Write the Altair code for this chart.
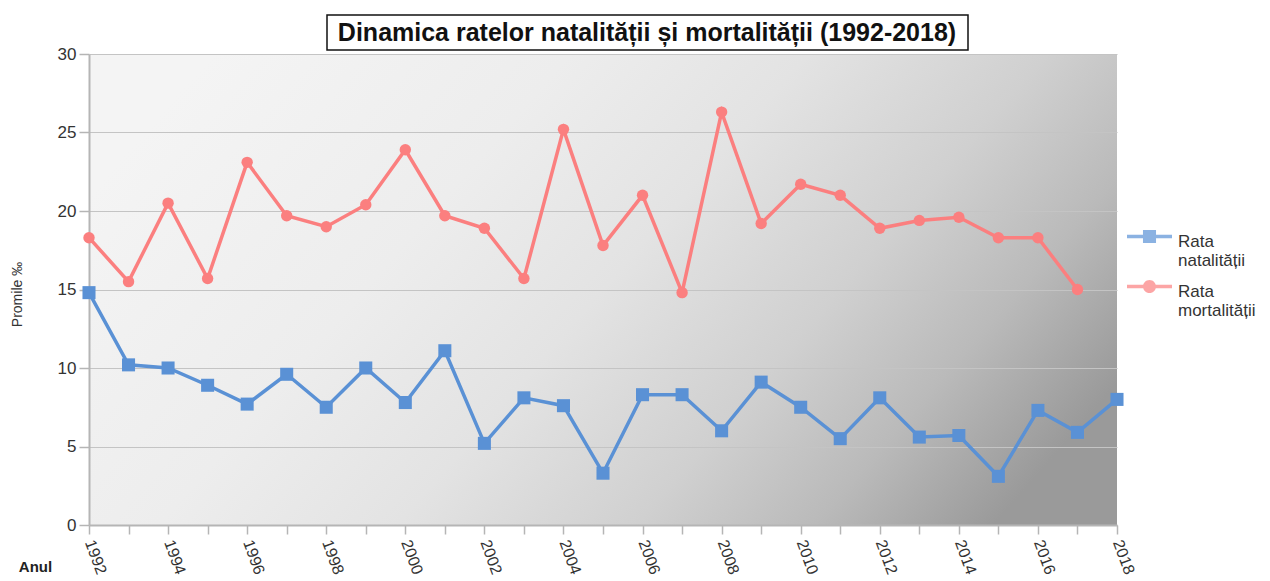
import altair as alt
import pandas as pd

# ---- data ----
years = list(range(1992, 2019))
natalitate = [14.8, 10.2, 10.0, 8.9, 7.7, 9.6, 7.5, 10.0, 7.8, 11.1, 5.2, 8.1, 7.6, 3.3,
              8.3, 8.3, 6.0, 9.1, 7.5, 5.5, 8.1, 5.6, 5.7, 3.1, 7.3, 5.9, 8.0]
mortalitate = [18.3, 15.5, 20.5, 15.7, 23.1, 19.7, 19.0, 20.4, 23.9, 19.7, 18.9, 15.7, 25.2, 17.8,
               21.0, 14.8, 26.3, 19.2, 21.7, 21.0, 18.9, 19.4, 19.6, 18.3, 18.3, 15.0, None]
series = ["Rata natalității", "Rata mortalității"]
colors = ["#5a91d5", "#fb7f7f"]
y_ticks = [0, 5, 10, 15, 20, 25, 30]
title_text = "Dinamica ratelor natalității și mortalității (1992-2018)"

rows = []
for name, vals in zip(series, [natalitate, mortalitate]):
    for yr, v in zip(years, vals):
        if v is not None:
            rows.append({"an": yr, "valoare": v, "serie": name})
df = pd.DataFrame(rows)

FONT = "Liberation Sans"
W, H = 1028, 471

x_enc = alt.X(
    "an:Q",
    scale=alt.Scale(domain=[1992, 2018], nice=False, zero=False),
    axis=alt.Axis(
        values=years, format="d",
        labelExpr="datum.value % 2 == 0 ? datum.label : ''",
        labelAngle=70, labelAlign="left", labelBaseline="middle",
        labelOverlap=False, labelFlush=False,
        labelFontSize=16, labelColor="#333333", labelPadding=6,
        tickSize=9, tickColor="#b5b5b5", tickWidth=1.5,
        domainColor="#b5b5b5", domainWidth=2, grid=False,
        title="Anul", titleX=-54, titleY=41, titleAngle=0,
        titleAlign="center", titleBaseline="middle",
        titleFontSize=15, titleFontWeight="bold", titleColor="#222222",
    ),
)
y_enc = alt.Y(
    "valoare:Q",
    scale=alt.Scale(domain=[0, 30], nice=False),
    axis=alt.Axis(
        values=y_ticks, labelFontSize=17, labelColor="#333333", labelPadding=3,
        tickSize=10, tickColor="#b5b5b5", tickWidth=1.5,
        domainColor="#b5b5b5", domainWidth=2,
        grid=True, gridColor="#c4c4c4", gridWidth=1.2,
        title="Promile ‰", titleX=-72, titleY=240, titleAngle=-90,
        titleAlign="center", titleBaseline="middle",
        titleFontSize=14, titleFontWeight="normal", titleColor="#333333",
    ),
)

base = alt.Chart(df)
layers = []
for name, col, shp, sz in zip(series, colors, ["square", "circle"], [170, 130]):
    sub = base.transform_filter(alt.datum.serie == name)
    layers.append(sub.mark_line(color=col, strokeWidth=3.5).encode(x=x_enc, y=y_enc))
    layers.append(sub.mark_point(color=col, filled=True, opacity=1, shape=shp, size=sz)
                  .encode(x=x_enc, y=y_enc))

# legend: custom symbols (line + marker), legend entries from explicit domain
dy = -0.22
t = 0.078
s = 0.29
path_sq = (f"M-1,{dy - t}H1V{dy + t}H-1Z "
           f"M-{s},{dy - s}H{s}V{dy + s}H-{s}Z")
path_ci = (f"M-1,{dy - t}H1V{dy + t}H-1Z "
           f"M-{s},{dy}A{s},{s} 0 1,1 {s},{dy}A{s},{s} 0 1,1 -{s},{dy}Z")
leg = alt.Legend(
    title=None, orient="none", legendX=1038, legendY=165,
    labelExpr="split(datum.label, ' ')", labelFontSize=17, labelColor="#333333",
    labelFont=FONT, labelOffset=6, labelBaseline="middle",
    symbolSize=2025, symbolStrokeWidth=0, rowPadding=-6, padding=0,
)
legend_layer = base.transform_filter("false").mark_point(filled=True).encode(
    color=alt.Color("serie:N", scale=alt.Scale(domain=series, range=colors), legend=leg),
    shape=alt.Shape("serie:N", scale=alt.Scale(domain=series, range=[path_sq, path_ci]), legend=leg),
)

# title in a framed box
tdf = pd.DataFrame({"t": [title_text]})
title_box = alt.Chart(tdf).mark_rect(fill="white", stroke="#111111", strokeWidth=1.5).encode(
    x=alt.value(238), x2=alt.value(879), y=alt.value(-39), y2=alt.value(-4)
)
title_txt = alt.Chart(tdf).mark_text(
    font=FONT, fontSize=25, fontWeight="bold", color="#111111", align="center", baseline="middle"
).encode(text="t:N", x=alt.value(558), y=alt.value(-21))

grad_expr = ("{gradient: 'linear', x1: 0, y1: 0.3, x2: 1, y2: 0.7, stops: ["
             "{offset: 0, color: '#f4f4f4'}, {offset: 0.3, color: '#ededed'}, "
             "{offset: 0.5, color: '#e3e3e3'}, {offset: 0.7, color: '#d0d0d0'}, "
             "{offset: 0.85, color: '#bababa'}, {offset: 1, color: '#9a9a9a'}]}")

chart = alt.layer(legend_layer, *layers, title_box, title_txt).properties(
    width=W, height=H,
    autosize=alt.AutoSizeParams(type="none"),
    padding={"left": 81, "top": 46, "right": 145, "bottom": 70},
    view=alt.ViewBackground(fill={"expr": grad_expr}, stroke=None),
    background="white",
).configure(font=FONT)

chart.save("out.html", embed_options={"renderer": "svg", "actions": False})
